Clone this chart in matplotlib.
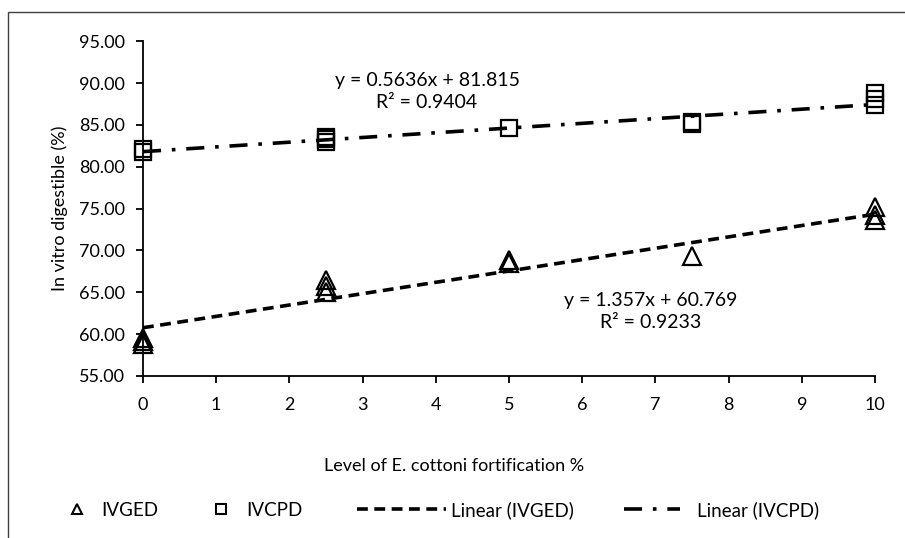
import numpy as np
import matplotlib
matplotlib.use("Agg")
import matplotlib.pyplot as plt
from matplotlib.lines import Line2D
from matplotlib.patches import Rectangle

plt.rcParams['font.family'] = ['Lato', 'DejaVu Sans']

# Data (replicates)
ivged_x = [0, 0, 0, 2.5, 2.5, 2.5, 5, 5, 7.5, 10, 10, 10]
ivged_y = [58.8, 59.2, 59.6, 65.0, 65.8, 66.5, 68.5, 68.9, 69.4, 73.6, 74.3, 75.2]
ivcpd_x = [0, 0, 2.5, 2.5, 2.5, 5, 7.5, 7.5, 10, 10, 10]
ivcpd_y = [81.8, 82.1, 83.0, 83.3, 83.6, 84.6, 85.1, 85.4, 87.4, 88.1, 88.8]

ivged_fit = (1.357, 60.769)
ivcpd_fit = (0.5636, 81.815)
ivged_eq = "y = 1.357x + 60.769\nR² = 0.9233"
ivcpd_eq = "y = 0.5636x + 81.815\nR² = 0.9404"

xticks = list(range(0, 11))
yticks = [55, 60, 65, 70, 75, 80, 85, 90, 95]
legend_labels = ['IVGED', 'IVCPD', 'Linear (IVGED)', 'Linear (IVCPD)']

W, H = 905, 538
fig = plt.figure(figsize=(W/100, H/100), dpi=100)
# outer chart frame (cut off on right and bottom)
fig.patches.append(Rectangle((8/W, -0.1), 1.2, (H-12)/H + 0.1,
                             transform=fig.transFigure, fill=False,
                             edgecolor='#404040', lw=1.0))

ax = fig.add_axes([143/W, (H-376)/H, (875-143)/W, (376-41.3)/H])

fx = np.array([0, 10])
ged_dash = (3, 1.8)
cpd_dash = (5, 3, 1, 3)
ax.plot(fx, ivged_fit[0]*fx + ivged_fit[1], color='black', lw=2.6,
        dashes=ged_dash, zorder=3)
ax.plot(fx, ivcpd_fit[0]*fx + ivcpd_fit[1], color='black', lw=2.6,
        dashes=cpd_dash, zorder=3)

ax.plot(ivged_x, ivged_y, linestyle='none', marker='^', markersize=13,
        markerfacecolor='none', markeredgecolor='black', markeredgewidth=1.6,
        zorder=4, clip_on=False)
ax.plot(ivcpd_x, ivcpd_y, linestyle='none', marker='s', markersize=12,
        markerfacecolor='none', markeredgecolor='black', markeredgewidth=1.6,
        zorder=4, clip_on=False)

ax.set_xlim(0, 10)
ax.set_ylim(55, 95)
ax.set_xticks(xticks)
ax.set_yticks(yticks)
ax.set_yticklabels([f"{v:.2f}" for v in yticks])
ax.spines['top'].set_visible(False)
ax.spines['right'].set_visible(False)
for s in ['left', 'bottom']:
    ax.spines[s].set_linewidth(1.3)
ax.tick_params(axis='both', direction='out', length=5, width=1.3, labelsize=13,
               pad=8)
ax.tick_params(axis='x', pad=10)

fig.text(454/W, 1 - 466/H, 'Level of E. cottoni fortification %', fontsize=13,
         ha='center', va='center')
ax.set_ylabel('In vitro digestible (%)', fontsize=13, labelpad=8)

ax.text(3.88, 89.0, ivcpd_eq, ha='center', va='center', fontsize=14, linespacing=1.4)
ax.text(6.94, 62.7, ivged_eq, ha='center', va='center', fontsize=14, linespacing=1.35)

h1 = Line2D([], [], linestyle='none', marker='^', markersize=7, markerfacecolor='none',
            markeredgecolor='black', markeredgewidth=1.5)
h2 = Line2D([], [], linestyle='none', marker='s', markersize=7, markerfacecolor='none',
            markeredgecolor='black', markeredgewidth=1.5)
h3 = Line2D([], [], color='black', lw=2.6, dashes=ged_dash)
h4 = Line2D([], [], color='black', lw=2.6, dashes=cpd_dash)

lfs = 13.5
em = lfs * 100 / 72
# (handle, label, handle start px, handle end px, text start px)
entries = [(h1, legend_labels[0], 67, 87, 101),
           (h2, legend_labels[1], 211, 231, 246),
           (h3, legend_labels[2], 357, 446, 451),
           (h4, legend_labels[3], 624, 680, 697)]
for h, lab, x0, x1, xt in entries:
    leg = fig.legend([h], [lab], loc='center left',
                     bbox_to_anchor=(x0/W, (H-510)/H), frameon=False,
                     fontsize=lfs, borderpad=0, borderaxespad=0,
                     handlelength=(x1-x0)/em, handletextpad=(xt-x1)/em)

fig.savefig('out.png', dpi=100)
